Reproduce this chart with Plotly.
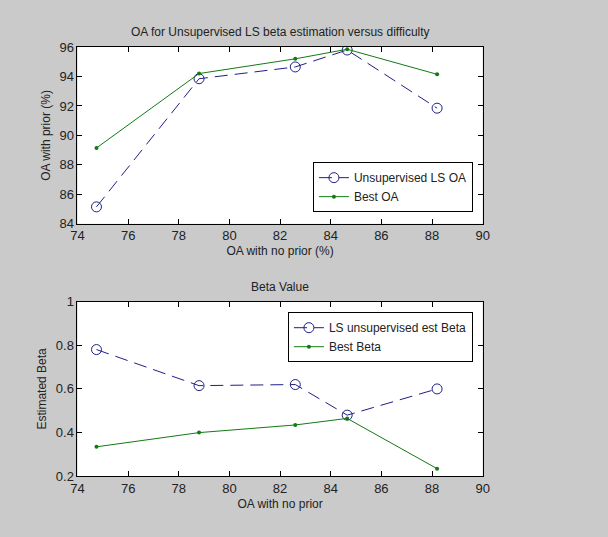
import plotly.graph_objects as go

PAGE_W, PAGE_H = 608, 537
MARGIN = 8  # default browser body margin
W, H = PAGE_W - 2 * MARGIN, PAGE_H - 2 * MARGIN

# Data
oa_no_prior = [74.75, 78.8, 82.6, 84.65, 88.2]
unsup_ls_oa = [85.15, 93.85, 94.65, 95.8, 91.85]
best_oa = [89.15, 94.2, 95.2, 95.85, 94.15]
ls_unsup_beta = [0.78, 0.615, 0.62, 0.48, 0.6]
best_beta = [0.335, 0.40, 0.435, 0.465, 0.235]

x_ticks = [74, 76, 78, 80, 82, 84, 86, 88, 90]
y1_ticks = [84, 86, 88, 90, 92, 94, 96]
y2_ticks = [0.2, 0.4, 0.6, 0.8, 1.0]
y2_ticklabels = ["0.2", "0.4", "0.6", "0.8", "1"]

BLUE = "#1f1f86"
GREEN = "#137a13"
GRAY = "#cacaca"
FONT = "Liberation Sans, Arial, Helvetica, sans-serif"

fig = go.Figure()

fig.add_trace(go.Scatter(x=oa_no_prior, y=unsup_ls_oa, mode="lines+markers",
                         name="Unsupervised LS OA", xaxis="x", yaxis="y",
                         line=dict(color=BLUE, width=1, dash="13px,7px"),
                         marker=dict(symbol="circle-open", size=10, color=BLUE, line=dict(width=1)),
                         legend="legend"))
fig.add_trace(go.Scatter(x=oa_no_prior, y=best_oa, mode="lines+markers",
                         name="Best OA", xaxis="x", yaxis="y",
                         line=dict(color=GREEN, width=1),
                         marker=dict(symbol="circle", size=4, color=GREEN),
                         legend="legend"))
fig.add_trace(go.Scatter(x=oa_no_prior, y=ls_unsup_beta, mode="lines+markers",
                         name="LS unsupervised est Beta", xaxis="x2", yaxis="y2",
                         line=dict(color=BLUE, width=1, dash="13px,7px"),
                         marker=dict(symbol="circle-open", size=10, color=BLUE, line=dict(width=1)),
                         legend="legend2"))
fig.add_trace(go.Scatter(x=oa_no_prior, y=best_beta, mode="lines+markers",
                         name="Best Beta", xaxis="x2", yaxis="y2",
                         line=dict(color=GREEN, width=1),
                         marker=dict(symbol="circle", size=4, color=GREEN),
                         legend="legend2"))

def px_x(p):
    return (p - MARGIN) / W

def px_y(p):
    return 1 - (p - MARGIN) / H

common_axis = dict(showline=True, linecolor="black", linewidth=1, mirror="ticks",
                   ticks="inside", ticklen=5, tickcolor="black", showgrid=False,
                   zeroline=False, tickfont=dict(size=13, color="#222222", family=FONT))

xdom = [px_x(72), px_x(487)]

fig.update_layout(
    width=W, height=H,
    margin=dict(l=0, r=0, t=0, b=0),
    paper_bgcolor=GRAY,
    plot_bgcolor="white",
    font=dict(family=FONT, size=12, color="#222222"),
    xaxis=dict(domain=xdom, range=[74, 90], tickvals=x_ticks, anchor="y",
               title=dict(text="OA with no prior (%)", standoff=4, font=dict(size=12)),
               **common_axis),
    yaxis=dict(domain=[px_y(223), px_y(41)], range=[84, 96], tickvals=y1_ticks, anchor="x",
               title=dict(text="OA with prior (%)", standoff=6, font=dict(size=12)),
               **common_axis),
    xaxis2=dict(domain=xdom, range=[74, 90], tickvals=x_ticks, anchor="y2",
                title=dict(text="OA with no prior", standoff=4, font=dict(size=12)),
                **common_axis),
    yaxis2=dict(domain=[px_y(483), px_y(303)], range=[0.2, 1.0], tickvals=y2_ticks,
                ticktext=y2_ticklabels, anchor="x2",
                title=dict(text="Estimated Beta", standoff=6, font=dict(size=12)),
                **common_axis),
    legend=dict(x=px_x(477), y=px_y(211), xanchor="right", yanchor="bottom",
                bgcolor="white", bordercolor="black", borderwidth=1,
                font=dict(size=12, family=FONT), tracegroupgap=0, itemwidth=30),
    legend2=dict(x=px_x(477), y=px_y(314), xanchor="right", yanchor="top",
                 bgcolor="white", bordercolor="black", borderwidth=1,
                 font=dict(size=12, family=FONT), tracegroupgap=0, itemwidth=30),
    annotations=[
        dict(text="OA for Unsupervised LS beta estimation versus difficulty",
             x=(xdom[0] + xdom[1]) / 2, y=px_y(26), xref="paper", yref="paper",
             showarrow=False, font=dict(size=12), xanchor="center", yanchor="middle"),
        dict(text="Beta Value",
             x=(xdom[0] + xdom[1]) / 2, y=px_y(288), xref="paper", yref="paper",
             showarrow=False, font=dict(size=12), xanchor="center", yanchor="middle"),
    ],
)

bg_js = "document.body.style.backgroundColor='" + GRAY + "';"

fig.write_html("out.html", config={"displayModeBar": False}, post_script=bg_js)
